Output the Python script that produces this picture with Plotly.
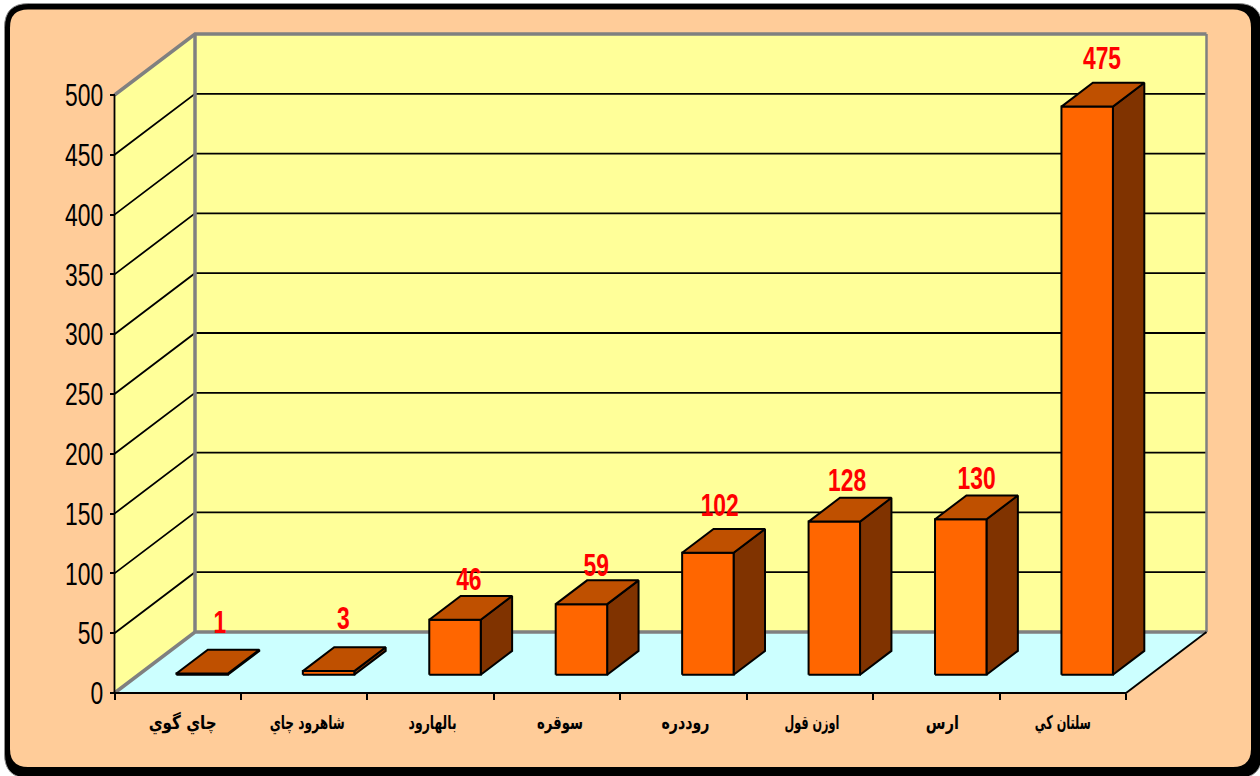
import plotly.graph_objects as go

# ---- data ----
CATEGORIES = ["چاي گوي", "شاهرود چاي", "بالهارود", "سوقره", "روددره", "اوزن قول", "ارس", "سلتان كي"]
VALUES = [1, 3, 46, 59, 102, 128, 130, 475]
TICKS = [0, 50, 100, 150, 200, 250, 300, 350, 400, 450, 500]

# ---- layout constants (pixels of the 1260x776 page) ----
W, H = 1260, 776
PL, PR, PT, PB = 114.5, 1126.0, 95.0, 693.0     # front plane of the 3-D box
X_MAX, Y_MAX = len(CATEGORIES), TICKS[-1]
PX_PER_CAT = (PR - PL) / X_MAX
PX_PER_VAL = (PB - PT) / Y_MAX
DEPTH_DX = 80.5 / PX_PER_CAT     # depth shear, in axis units
DEPTH_DY = 61.0 / PX_PER_VAL
BAR_W = 0.407
BAR_SHIFT = 0.002
BAR_D0, BAR_D1 = 0.3, 0.69
LABEL_NUDGE_X = [2, -1, -2, -1, -4, -3, 0, -1]     # px
LABEL_NUDGE_Y = [-36.5, -37.5, -25.5, -24, -32.5, -26.5, -26.5, -33.5]  # px, from centre of bar top
CAT_LABEL_W = [68, 75, 48, 46, 48, 55, 33, 56]      # px, squeezed width of category labels
CAT_LABEL_DX = [5, 3, 2, 3, 2, 2, 6, 0]             # px
DIGIT_W = 12.7                                       # px, squeezed width of one digit

FRONT, TOP, SIDE = "#FF6600", "#BF5000", "#803300"
WALL, FLOOR, FRAME, PEACH = "#FFFF99", "#CCFFFF", "#808080", "#FFCC99"
NARROW = "Liberation Sans, Arial, sans-serif"


def pr(x, v, d):
    return x + d * DEPTH_DX, v + d * DEPTH_DY


def poly_trace(polys, fill, line_color, line_w):
    xs, ys = [], []
    for poly in polys:
        for p in poly + [poly[0]]:
            xs.append(p[0]); ys.append(p[1])
        xs.append(None); ys.append(None)
    return go.Scatter(x=xs, y=ys, mode="lines", fill="toself", fillcolor=fill,
                      line=dict(color=line_color, width=line_w), hoverinfo="skip",
                      showlegend=False, cliponaxis=False)


def line_trace(segs, color, width):
    xs, ys = [], []
    for seg in segs:
        for p in seg:
            xs.append(p[0]); ys.append(p[1])
        xs.append(None); ys.append(None)
    return go.Scatter(x=xs, y=ys, mode="lines", line=dict(color=color, width=width),
                      hoverinfo="skip", showlegend=False, cliponaxis=False)


fig = go.Figure()

# walls and floor
fig.add_trace(poly_trace([[pr(0, 0, 1), pr(X_MAX, 0, 1), pr(X_MAX, Y_MAX, 1), pr(0, Y_MAX, 1)],
                          [pr(0, 0, 0), pr(0, 0, 1), pr(0, Y_MAX, 1), pr(0, Y_MAX, 0)]],
                         WALL, WALL, 0.5))
fig.add_trace(poly_trace([[pr(0, 0, 0), pr(X_MAX, 0, 0), pr(X_MAX, 0, 1), pr(0, 0, 1)]],
                         FLOOR, FLOOR, 0.5))

# gridlines
grid = []
for v in TICKS[1:-1]:
    grid.append([pr(0, v, 0), pr(0, v, 1), pr(X_MAX, v, 1)])
fig.add_trace(line_trace(grid, "black", 1.8))

# grey frame of the box
fig.add_trace(line_trace([[pr(0, Y_MAX, 0), pr(0, Y_MAX, 1), pr(X_MAX, Y_MAX, 1)],
                          [pr(0, 0, 0), pr(0, 0, 1), pr(X_MAX, 0, 1)],
                          [pr(0, 0, 1), pr(0, Y_MAX, 1)]], FRAME, 3.5))
fig.add_trace(line_trace([[pr(X_MAX, 0, 1), pr(X_MAX, Y_MAX, 1)]], FRAME, 2.5))
# axis lines and right floor edge
fig.add_trace(line_trace([[pr(0, Y_MAX, 0), pr(0, 0, 0), pr(X_MAX, 0, 0), pr(X_MAX, 0, 1)]],
                         "black", 1.8))

# bars
fronts, tops, sides = [], [], []
lx, ly = [], []
for i, v in enumerate(VALUES):
    c = i + 0.5 + BAR_SHIFT
    a, b = c - BAR_W / 2, c + BAR_W / 2
    fronts.append([pr(a, 0, BAR_D0), pr(b, 0, BAR_D0), pr(b, v, BAR_D0), pr(a, v, BAR_D0)])
    tops.append([pr(a, v, BAR_D0), pr(b, v, BAR_D0), pr(b, v, BAR_D1), pr(a, v, BAR_D1)])
    sides.append([pr(b, 0, BAR_D0), pr(b, 0, BAR_D1), pr(b, v, BAR_D1), pr(b, v, BAR_D0)])
    cx, cy = pr(i + 0.5, v, 0.5)
    lx.append(cx + LABEL_NUDGE_X[i] / PX_PER_CAT)
    ly.append(cy - LABEL_NUDGE_Y[i] / PX_PER_VAL)
fig.add_trace(poly_trace(sides, SIDE, "black", 2))
fig.add_trace(poly_trace(fronts, FRONT, "black", 2))
fig.add_trace(poly_trace(tops, TOP, "black", 2))

# value labels
fig.add_trace(go.Scatter(x=lx, y=ly, mode="text", text=[str(v) for v in VALUES],
                         textposition="middle center", cliponaxis=False, showlegend=False,
                         hoverinfo="skip",
                         textfont=dict(family=NARROW, size=32, color="#FF0000", weight="bold")))


def px(x):
    return x / W


def py(y):
    return 1 - y / H


def rrect(x0, y0, x1, y1, r):
    return (f"M {px(x0 + r)} {py(y0)} L {px(x1 - r)} {py(y0)} "
            f"Q {px(x1)} {py(y0)} {px(x1)} {py(y0 + r)} L {px(x1)} {py(y1 - r)} "
            f"Q {px(x1)} {py(y1)} {px(x1 - r)} {py(y1)} L {px(x0 + r)} {py(y1)} "
            f"Q {px(x0)} {py(y1)} {px(x0)} {py(y1 - r)} L {px(x0)} {py(y0 + r)} "
            f"Q {px(x0)} {py(y0)} {px(x0 + r)} {py(y0)} Z")


fig.update_layout(
    width=W, height=H, autosize=False,
    margin=dict(l=0, r=0, t=0, b=0, pad=0),
    paper_bgcolor="white", plot_bgcolor="rgba(0,0,0,0)",
    showlegend=False,
    shapes=[
        dict(type="path", xref="paper", yref="paper", layer="below",
             path=rrect(4.5, 3.5, 1262, 778, 24), fillcolor="black",
             line=dict(color="#909090", width=1)),
        dict(type="path", xref="paper", yref="paper", layer="below",
             path=rrect(10, 9.5, 1251, 767, 18), fillcolor=PEACH,
             line=dict(width=0)),
    ],
    xaxis=dict(range=[-PL / PX_PER_CAT, (W - PL) / PX_PER_CAT],
               anchor="free", position=(H - PB) / H,
               showgrid=False, zeroline=False, showline=False,
               tickmode="array", tickvals=[i + 0.5 for i in range(X_MAX)], ticktext=CATEGORIES,
               ticks="", ticklabelstandoff=16,
               tickfont=dict(family="DejaVu Sans", size=19, color="black", weight="bold"),
               minor=dict(tickmode="array", tickvals=list(range(X_MAX + 1)), ticks="outside",
                          ticklen=6, tickwidth=1.5, tickcolor="black", showgrid=False)),
    yaxis=dict(range=[-(H - PB) / PX_PER_VAL, Y_MAX + PT / PX_PER_VAL],
               anchor="free", position=PL / W,
               showgrid=False, zeroline=False, showline=False,
               tickmode="array", tickvals=TICKS, ticktext=[str(t) for t in TICKS],
               ticks="outside", ticklen=5, tickwidth=1.5, tickcolor="black",
               tickfont=dict(family=NARROW, size=32, color="black")),
)

POST = """
document.documentElement.style.overflow = 'hidden';
document.body.style.margin = '0';
document.body.style.overflow = 'hidden';
var squeeze = function (t, w) {
  t.setAttribute('lengthAdjust', 'spacingAndGlyphs');
  t.setAttribute('textLength', w);
};
document.querySelectorAll('.ytick text, .textpoint text').forEach(function (t) {
  squeeze(t, t.textContent.length * %s);
});
var catW = %s, catDx = %s;
document.querySelectorAll('.xtick text').forEach(function (t, i) {
  if (i < catW.length) { squeeze(t, catW[i]); t.setAttribute('dx', catDx[i]); }
});
""" % (DIGIT_W, CAT_LABEL_W, CAT_LABEL_DX)

fig.write_html("out.html", config=dict(displayModeBar=False), post_script=POST)
